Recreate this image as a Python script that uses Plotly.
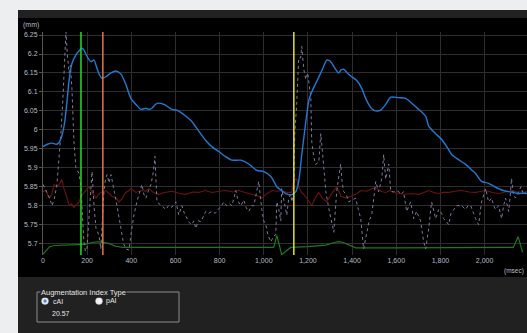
import plotly.graph_objects as go

# ---------------- data ----------------
blue_t = [0, 20, 40, 60, 72, 86, 98, 108, 118, 131, 149, 163, 176, 186, 194, 205, 217, 231, 244, 256, 267,
          285, 308, 330, 353, 375, 398, 421, 443, 466, 480, 493, 516, 548, 584, 606, 647, 674, 706, 737,
          766, 796, 825, 855, 896, 932, 968, 1000, 1032, 1059, 1080, 1100, 1127, 1145, 1158, 1172, 1190,
          1205, 1217, 1240, 1262, 1285, 1295, 1308, 1325, 1339, 1350, 1362, 1378, 1394, 1421, 1443, 1460,
          1475, 1490, 1507, 1529, 1552, 1575, 1610, 1643, 1670, 1701, 1733, 1747, 1778, 1805, 1837, 1851,
          1880, 1914, 1940, 1959, 1986, 2018, 2040, 2063, 2085, 2109, 2130, 2154, 2175, 2192]
blue_v = [5.956, 5.962, 5.965, 5.962, 5.966, 5.985, 6.02, 6.07, 6.13, 6.175, 6.198, 6.208, 6.215, 6.21, 6.20,
          6.188, 6.18, 6.184, 6.163, 6.145, 6.136, 6.14, 6.15, 6.155, 6.147, 6.12, 6.083, 6.067, 6.054,
          6.057, 6.054, 6.057, 6.07, 6.067, 6.054, 6.052, 6.036, 6.022, 5.996, 5.972, 5.955, 5.943, 5.93,
          5.92, 5.92, 5.91, 5.893, 5.89, 5.877, 5.85, 5.84, 5.832, 5.829, 5.837, 5.864, 5.935, 6.02, 6.08,
          6.10, 6.128, 6.155, 6.184, 6.183, 6.176, 6.16, 6.15, 6.158, 6.16, 6.15, 6.142, 6.13, 6.11, 6.085,
          6.067, 6.055, 6.05, 6.052, 6.067, 6.086, 6.085, 6.083, 6.07, 6.054, 6.036, 6.01, 5.99, 5.975,
          5.948, 5.935, 5.922, 5.909, 5.895, 5.885, 5.864, 5.859, 5.852, 5.845, 5.84, 5.837, 5.835, 5.832,
          5.833, 5.832]

purple_t = [0, 15, 30, 41, 52, 63, 72, 81, 90, 97, 104, 110, 118, 124, 131, 140, 149, 163, 172, 185, 192,
            199, 210, 222, 231, 240, 253, 262, 276, 283, 290, 299, 308, 321, 335, 353, 365, 376, 389, 400,
            412, 425, 438, 448, 457, 466, 478, 489, 500, 507, 516, 527, 538, 557, 568, 579, 590, 602, 615,
            629, 640, 652, 663, 674, 683, 692, 703, 715, 726, 737, 750, 765, 780, 796, 808, 819, 832, 845,
            855, 865, 873, 885, 896, 909, 920, 932, 944, 955, 966, 977, 991, 1000, 1009, 1020, 1032, 1045,
            1054, 1059, 1068, 1077, 1081, 1091, 1100, 1104, 1113, 1122, 1127, 1136, 1140, 1149, 1158, 1167,
            1172, 1181, 1190, 1199, 1213, 1217, 1226, 1235, 1249, 1258, 1272, 1281, 1292, 1303, 1317, 1330,
            1340, 1348, 1355, 1362, 1373, 1385, 1400, 1416, 1428, 1439, 1452, 1466, 1477, 1489, 1500, 1507,
            1520, 1534, 1543, 1552, 1566, 1575, 1588, 1600, 1611, 1622, 1633, 1647, 1665, 1679, 1692, 1710,
            1724, 1733, 1747, 1760, 1778, 1792, 1805, 1814, 1825, 1837, 1848, 1860, 1873, 1885, 1896, 1914,
            1925, 1937, 1948, 1959, 1973, 1986, 2005, 2018, 2032, 2041, 2050, 2063, 2077, 2086, 2095, 2109,
            2115, 2122, 2130, 2140, 2154, 2165, 2175, 2185]
purple_v = [5.856, 5.837, 5.82, 5.80, 5.82, 5.856, 5.917, 5.99, 6.08, 6.17, 6.26, 6.2, 6.15, 6.17, 6.11,
            5.97, 5.9, 5.885, 5.85, 5.705, 5.68, 5.686, 5.78, 5.89, 5.8, 5.74, 5.723, 5.686, 5.837, 5.87,
            5.882, 5.86, 5.882, 5.845, 5.8, 5.74, 5.7, 5.686, 5.683, 5.73, 5.776, 5.81, 5.84, 5.856, 5.83,
            5.82, 5.84, 5.856, 5.89, 5.93, 5.81, 5.805, 5.80, 5.79, 5.8, 5.795, 5.8, 5.81, 5.776, 5.80,
            5.78, 5.766, 5.755, 5.75, 5.76, 5.74, 5.76, 5.758, 5.77, 5.785, 5.78, 5.785, 5.78, 5.79, 5.8,
            5.81, 5.80, 5.805, 5.80, 5.82, 5.84, 5.81, 5.80, 5.815, 5.795, 5.785, 5.8, 5.80, 5.83, 5.864,
            5.79, 5.76, 5.75, 5.72, 5.705, 5.72, 5.723, 5.81, 5.79, 5.76, 5.845, 5.81, 5.79, 5.775, 5.82,
            5.83, 5.81, 5.84, 5.988, 6.067, 6.19, 6.19, 6.22, 6.16, 6.133, 6.15, 6.083, 5.97, 5.93, 5.909,
            5.915, 5.99, 5.9, 5.837, 5.8, 5.766, 5.73, 5.837, 5.88, 5.91, 5.86, 5.837, 5.83, 5.81, 5.815,
            5.82, 5.79, 5.766, 5.686, 5.73, 5.76, 5.776, 5.83, 5.864, 5.837, 5.87, 5.935, 5.87, 5.91, 5.837,
            5.837, 5.84, 5.837, 5.83, 5.837, 5.785, 5.81, 5.766, 5.785, 5.76, 5.705, 5.686, 5.74, 5.81,
            5.766, 5.79, 5.78, 5.766, 5.76, 5.75, 5.78, 5.79, 5.80, 5.8, 5.80, 5.79, 5.8, 5.80, 5.78, 5.766,
            5.75, 5.81, 5.845, 5.81, 5.82, 5.8, 5.79, 5.80, 5.766, 5.8, 5.82, 5.785, 5.82, 5.872, 5.83,
            5.82, 5.837, 5.85, 5.83, 5.835]

red_t = [0, 14, 27, 40, 50, 60, 72, 81, 86, 95, 104, 118, 130, 140, 154, 163, 172, 185, 195, 208, 222, 240,
         252, 262, 285, 300, 312, 330, 344, 360, 375, 390, 398, 410, 421, 435, 448, 465, 480, 500, 525, 550,
         584, 615, 647, 680, 706, 735, 765, 800, 828, 860, 887, 915, 946, 970, 991, 1010, 1036, 1060, 1081,
         1105, 1127, 1136, 1149, 1158, 1170, 1181, 1200, 1217, 1233, 1249, 1265, 1285, 1305, 1330, 1350,
         1371, 1395, 1416, 1440, 1466, 1490, 1507, 1530, 1552, 1570, 1588, 1615, 1643, 1670, 1701, 1725,
         1747, 1770, 1792, 1815, 1837, 1865, 1896, 1930, 1959, 1985, 2005, 2035, 2063, 2095, 2122, 2145,
         2170, 2192]
red_v = [5.837, 5.84, 5.82, 5.83, 5.856, 5.85, 5.855, 5.864, 5.869, 5.845, 5.83, 5.80, 5.805, 5.795, 5.805,
         5.81, 5.825, 5.835, 5.84, 5.85, 5.835, 5.82, 5.83, 5.835, 5.84, 5.83, 5.825, 5.82, 5.81, 5.82,
         5.835, 5.84, 5.845, 5.84, 5.835, 5.838, 5.84, 5.838, 5.845, 5.835, 5.83, 5.835, 5.838, 5.833,
         5.83, 5.836, 5.835, 5.84, 5.835, 5.838, 5.84, 5.836, 5.84, 5.835, 5.83, 5.826, 5.82, 5.83, 5.84,
         5.838, 5.84, 5.835, 5.835, 5.869, 5.87, 5.85, 5.835, 5.83, 5.815, 5.80, 5.82, 5.835, 5.82, 5.81,
         5.83, 5.85, 5.825, 5.82, 5.825, 5.83, 5.84, 5.838, 5.845, 5.848, 5.838, 5.835, 5.84, 5.835,
         5.832, 5.83, 5.832, 5.83, 5.835, 5.84, 5.835, 5.832, 5.835, 5.835, 5.838, 5.84, 5.836, 5.835,
         5.838, 5.84, 5.835, 5.832, 5.836, 5.84, 5.836, 5.835, 5.836]

green_t = [0, 15, 30, 50, 80, 120, 160, 190, 222, 250, 270, 300, 330, 360, 400, 600, 800, 1000, 1045, 1059,
           1081, 1100, 1122, 1200, 1280, 1320, 1339, 1360, 1390, 1416, 1600, 1800, 2000, 2130, 2152, 2172]
green_v = [5.672, 5.682, 5.692, 5.695, 5.696, 5.696, 5.697, 5.698, 5.703, 5.705, 5.704, 5.70, 5.693, 5.69,
           5.69, 5.69, 5.69, 5.69, 5.69, 5.722, 5.671, 5.68, 5.69, 5.692, 5.696, 5.703, 5.705, 5.703, 5.695,
           5.689, 5.689, 5.69, 5.69, 5.69, 5.718, 5.677]

marker_t = [172, 271, 1136]
marker_colors = ["#22e022", "#e8763a", "#e6e61a"]

x_ticks = [0, 200, 400, 600, 800, 1000, 1200, 1400, 1600, 1800, 2000]
y_ticks = [6.25, 6.2, 6.15, 6.1, 6.05, 6.0, 5.95, 5.9, 5.85, 5.8, 5.75, 5.7]
y_tick_text = ["6.25", "6.2", "6.15", "6.1", "6.05", "6", "5.95", "5.9", "5.85", "5.8", "5.75", "5.7"]

aug_title = "Augmentation Index Type"
aug_options = ["cAI", "pAI"]
aug_value = "20.57"

# ---------------- layout geometry (pixels) ----------------
W, H = 527, 333
L, R, T, B = 43, 527, 32, 255


def xp(px):
    return (px - L) / (R - L)


def yp(py):
    return (B - py) / (B - T)


FONT = "Liberation Sans"
TICK_COLOR = "#b4bec8"

fig = go.Figure()
fig.add_trace(go.Scatter(x=green_t, y=green_v, mode="lines",
                         line=dict(color="#1c7a1c", width=1.2), hoverinfo="skip"))
fig.add_trace(go.Scatter(x=red_t, y=red_v, mode="lines",
                         line=dict(color="#6e1212", width=1.1), hoverinfo="skip"))
fig.add_trace(go.Scatter(x=purple_t, y=purple_v, mode="lines",
                         line=dict(color="#7e7a9c", width=1, dash="dot"), hoverinfo="skip"))
fig.add_trace(go.Scatter(x=blue_t, y=blue_v, mode="lines", line_shape="spline",
                         line=dict(color="#1f7ad4", width=1.4, smoothing=0.7), hoverinfo="skip"))

shapes = [
    dict(type="rect", xref="paper", yref="paper", x0=xp(18), x1=xp(540), y0=yp(345), y1=yp(10),
         fillcolor="#212121", line=dict(width=0), layer="below"),
    dict(type="rect", xref="paper", yref="paper", x0=xp(18), x1=xp(540), y0=yp(277), y1=yp(18),
         fillcolor="#000000", line=dict(width=0), layer="below"),
    # group box
    dict(type="rect", xref="paper", yref="paper", x0=xp(37), x1=xp(179), y0=yp(322), y1=yp(292),
         fillcolor="rgba(0,0,0,0)", line=dict(color="#8c8c8c", width=1), layer="above"),
    # radio buttons
    dict(type="circle", xref="paper", yref="paper", x0=xp(41.5), x1=xp(48.5), y0=yp(304.5), y1=yp(297.5),
         fillcolor="#f0f0f0", line=dict(color="#b0b0b0", width=0.5), layer="above"),
    dict(type="circle", xref="paper", yref="paper", x0=xp(43.3), x1=xp(46.7), y0=yp(302.7), y1=yp(299.3),
         fillcolor="#3d8fe8", line=dict(width=0), layer="above"),
    dict(type="circle", xref="paper", yref="paper", x0=xp(95.5), x1=xp(102.5), y0=yp(304.5), y1=yp(297.5),
         fillcolor="#f4f4f4", line=dict(color="#b0b0b0", width=0.5), layer="above"),
]
for t, c in zip(marker_t, marker_colors):
    shapes.append(dict(type="line", xref="x", yref="paper", x0=t, x1=t, y0=0, y1=1,
                       line=dict(color=c, width=1.5), layer="above"))

annotations = [
    dict(text="(mm)", xref="paper", yref="paper", x=xp(21), y=yp(25), xanchor="left", yanchor="middle",
         showarrow=False, font=dict(family=FONT, size=7, color=TICK_COLOR)),
    dict(text="(msec)", xref="paper", yref="paper", x=xp(526), y=yp(271), xanchor="right", yanchor="middle",
         showarrow=False, font=dict(family=FONT, size=6.5, color=TICK_COLOR)),
    dict(text=aug_title, xref="paper", yref="paper", x=xp(40), y=yp(292), xanchor="left", yanchor="middle",
         showarrow=False, bgcolor="#212121", borderpad=0,
         font=dict(family=FONT, size=7.5, color="#e6e6e6")),
    dict(text=aug_options[0], xref="paper", yref="paper", x=xp(50.5), y=yp(301), xanchor="left",
         yanchor="middle", showarrow=False, font=dict(family=FONT, size=7, color="#e6e6e6")),
    dict(text=aug_options[1], xref="paper", yref="paper", x=xp(104), y=yp(301), xanchor="left",
         yanchor="middle", showarrow=False, font=dict(family=FONT, size=7, color="#e6e6e6")),
    dict(text=aug_value, xref="paper", yref="paper", x=xp(49.5), y=yp(313.5), xanchor="left",
         yanchor="middle", showarrow=False, font=dict(family=FONT, size=7, color="#e6e6e6")),
]

fig.update_layout(
    width=W, height=H,
    margin=dict(l=L, r=W - R, t=T, b=H - B, pad=0),
    paper_bgcolor="#eceef0",
    plot_bgcolor="#000000",
    showlegend=False,
    shapes=shapes,
    annotations=annotations,
    xaxis=dict(range=[0, 2192], tickvals=x_ticks, tickformat=",d", showgrid=True,
               gridcolor="#2e2e2e", gridwidth=1, zeroline=False, showline=False, ticks="",
               tickfont=dict(family=FONT, size=7, color=TICK_COLOR), fixedrange=True),
    yaxis=dict(range=[5.670, 6.258], tickvals=y_ticks, ticktext=y_tick_text, showgrid=True,
               gridcolor="#2e2e2e", gridwidth=1, zeroline=False, showline=True, linecolor="#555555",
               linewidth=1, ticks="outside", ticklen=3, tickcolor="#555555",
               tickfont=dict(family=FONT, size=7, color=TICK_COLOR), fixedrange=True),
)

fig.write_html(
    "out.html",
    config={"displayModeBar": False},
    post_script="document.body.style.margin='0';document.body.style.overflow='hidden';"
                "document.body.style.background='#eceef0';",
)
